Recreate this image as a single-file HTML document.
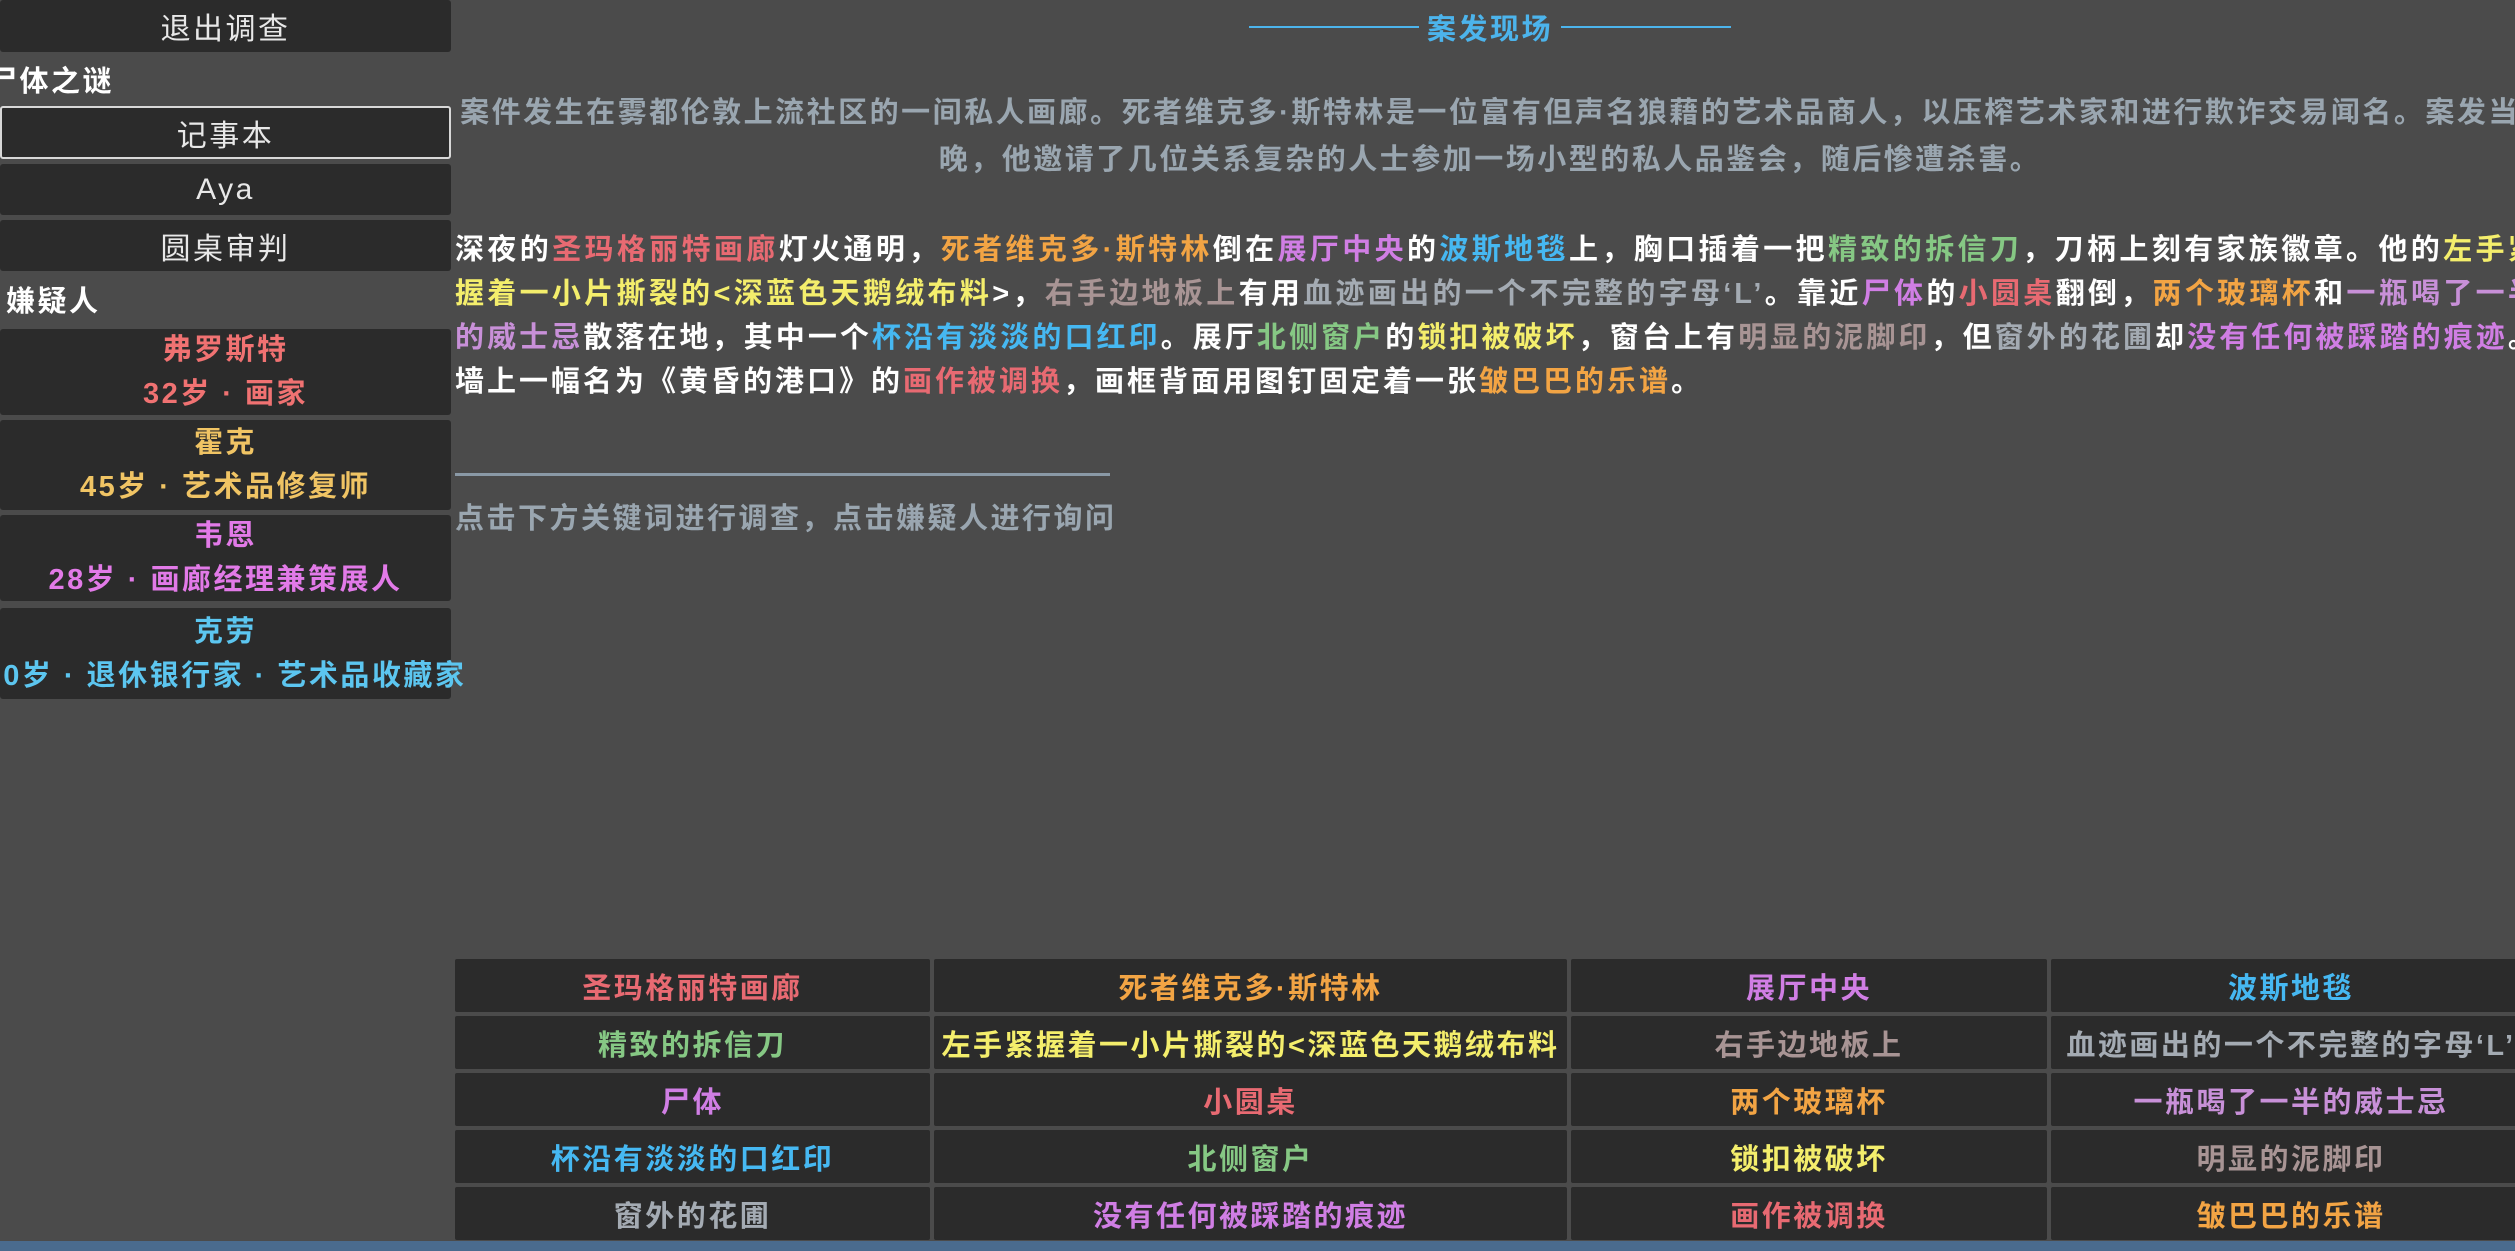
<!DOCTYPE html>
<html><head><meta charset="utf-8"><style>
*{margin:0;padding:0;box-sizing:border-box}
body{width:2515px;height:1251px;overflow:hidden;background:#4b4b4b;font-family:"Liberation Sans","Noto Sans CJK SC",sans-serif;position:relative;letter-spacing:2.5px}
.lp{position:absolute;left:0;top:0;width:451px;height:1251px;background:#4b4b4b}
.btn{position:absolute;left:0;width:451px;background:#2b2b2b;color:#e8e8e8;font-size:30px;display:flex;align-items:center;justify-content:center;white-space:nowrap;border-radius:3px}
.hd{position:absolute;color:#fff;font-size:29px;font-weight:bold;white-space:nowrap}
.sus{flex-direction:column;line-height:44px;font-size:29px;font-weight:bold}
.main{position:absolute;left:455px;top:0;width:2070px}
.title{position:absolute;top:6px;left:786px;color:#4cb4ec;font-size:29px;font-weight:bold;white-space:nowrap;display:flex;align-items:center}
.title span.l{display:inline-block;width:170px;height:2px;background:#4cb4ec;margin:0 8px}
.intro{position:absolute;top:90px;left:0;width:2070px;text-align:center;color:#9aa6b0;font-size:29px;line-height:47px;font-weight:bold;letter-spacing:2.5px}
.para{position:absolute;top:228px;left:0;width:2085px;color:#fff;font-size:29px;line-height:44px;font-weight:bold;letter-spacing:3px}
.para .ln{white-space:nowrap;text-align:justify;text-align-last:justify}
.para .ln.last{text-align-last:left}
.div{position:absolute;top:473px;left:0;width:655px;height:3px;background:#8a99a6}
.hint{position:absolute;top:495px;left:0;color:#9aa6b0;font-size:29px;font-weight:bold}
.cell{position:absolute;background:#2b2b2b;display:flex;align-items:center;justify-content:center;font-size:29px;font-weight:bold;white-space:nowrap;overflow:hidden;border-radius:2px}
.r{color:#e86a72}.o{color:#f2a444}.p{color:#d07ee4}.b{color:#46b8f2}.g{color:#86c884}.y{color:#f4ee6c}.br{color:#a89494}.gb{color:#a4abb3}.lp2{color:#c890d8}
.bar{position:absolute;left:0;top:1241px;width:2515px;height:10px;background:#4a6b8e}
</style></head><body>
<div class="lp">
<div class="btn" style="top:0;height:52px">退出调查</div>
<div class="hd" style="left:-12px;top:58px">尸体之谜</div>
<div class="btn" style="top:106px;height:53px;border:2px solid #d8d8d8">记事本</div>
<div class="btn" style="top:164px;height:51px">Aya</div>
<div class="btn" style="top:220px;height:51px">圆桌审判</div>
<div class="hd" style="left:6px;top:278px">嫌疑人</div>
<div class="btn sus" style="top:329px;height:86px"><div style="color:#f07272">弗罗斯特</div><div style="color:#f07272">32岁 · 画家</div></div>
<div class="btn sus" style="top:420px;height:90px"><div style="color:#f0c464">霍克</div><div style="color:#f0c464">45岁 · 艺术品修复师</div></div>
<div class="btn sus" style="top:515px;height:86px"><div style="color:#e27ae8">韦恩</div><div style="color:#e27ae8">28岁 · 画廊经理兼策展人</div></div>
<div class="btn sus" style="top:608px;height:91px"><div style="color:#5cc6f0">克劳</div><div style="color:#5cc6f0">60岁 · 退休银行家 · 艺术品收藏家</div></div>
</div>
<div class="main">
<div class="title"><span class="l"></span>案发现场<span class="l"></span></div>
<div class="intro">案件发生在雾都伦敦上流社区的一间私人画廊。死者维克多·斯特林是一位富有但声名狼藉的艺术品商人，以压榨艺术家和进行欺诈交易闻名。案发当晚，他邀请了几位关系复杂的人士参加一场小型的私人品鉴会，随后惨遭杀害。</div>
<div class="para">
<div class="ln">深夜的<span class="r">圣玛格丽特画廊</span>灯火通明，<span class="o">死者维克多·斯特林</span>倒在<span class="p">展厅中央</span>的<span class="b">波斯地毯</span>上，胸口插着一把<span class="g">精致的拆信刀</span>，刀柄上刻有家族徽章。他的<span class="y">左手紧</span></div>
<div class="ln"><span class="y">握着一小片撕裂的&lt;深蓝色天鹅绒布料</span>&gt;，<span class="br">右手边地板上</span>有用<span class="gb">血迹画出的一个不完整的字母‘L’</span>。靠近<span class="p">尸体</span>的<span class="r">小圆桌</span>翻倒，<span class="o">两个玻璃杯</span>和<span class="lp2">一瓶喝了一半</span></div>
<div class="ln"><span class="lp2">的威士忌</span>散落在地，其中一个<span class="b">杯沿有淡淡的口红印</span>。展厅<span class="g">北侧窗户</span>的<span class="y">锁扣被破坏</span>，窗台上有<span class="br">明显的泥脚印</span>，但<span class="gb">窗外的花圃</span>却<span class="p">没有任何被踩踏的痕迹</span>。</div>
<div class="ln last">墙上一幅名为《黄昏的港口》的<span class="r">画作被调换</span>，画框背面用图钉固定着一张<span class="o">皱巴巴的乐谱</span>。</div>
</div>
<div class="div"></div>
<div class="hint">点击下方关键词进行调查，点击嫌疑人进行询问</div>
</div>
<div class="cell r" style="left:455px;top:959px;width:475px;height:53px">圣玛格丽特画廊</div>
<div class="cell o" style="left:934px;top:959px;width:633px;height:53px">死者维克多·斯特林</div>
<div class="cell p" style="left:1571px;top:959px;width:476px;height:53px">展厅中央</div>
<div class="cell b" style="left:2051px;top:959px;width:480px;height:53px">波斯地毯</div>
<div class="cell g" style="left:455px;top:1016px;width:475px;height:53px">精致的拆信刀</div>
<div class="cell y" style="left:934px;top:1016px;width:633px;height:53px">左手紧握着一小片撕裂的&lt;深蓝色天鹅绒布料</div>
<div class="cell br" style="left:1571px;top:1016px;width:476px;height:53px">右手边地板上</div>
<div class="cell gb" style="left:2051px;top:1016px;width:480px;height:53px">血迹画出的一个不完整的字母‘L’</div>
<div class="cell p" style="left:455px;top:1073px;width:475px;height:53px">尸体</div>
<div class="cell r" style="left:934px;top:1073px;width:633px;height:53px">小圆桌</div>
<div class="cell o" style="left:1571px;top:1073px;width:476px;height:53px">两个玻璃杯</div>
<div class="cell lp2" style="left:2051px;top:1073px;width:480px;height:53px">一瓶喝了一半的威士忌</div>
<div class="cell b" style="left:455px;top:1130px;width:475px;height:53px">杯沿有淡淡的口红印</div>
<div class="cell g" style="left:934px;top:1130px;width:633px;height:53px">北侧窗户</div>
<div class="cell y" style="left:1571px;top:1130px;width:476px;height:53px">锁扣被破坏</div>
<div class="cell br" style="left:2051px;top:1130px;width:480px;height:53px">明显的泥脚印</div>
<div class="cell gb" style="left:455px;top:1187px;width:475px;height:53px">窗外的花圃</div>
<div class="cell p" style="left:934px;top:1187px;width:633px;height:53px">没有任何被踩踏的痕迹</div>
<div class="cell r" style="left:1571px;top:1187px;width:476px;height:53px">画作被调换</div>
<div class="cell o" style="left:2051px;top:1187px;width:480px;height:53px">皱巴巴的乐谱</div>
<div class="bar"></div>
</body></html>
